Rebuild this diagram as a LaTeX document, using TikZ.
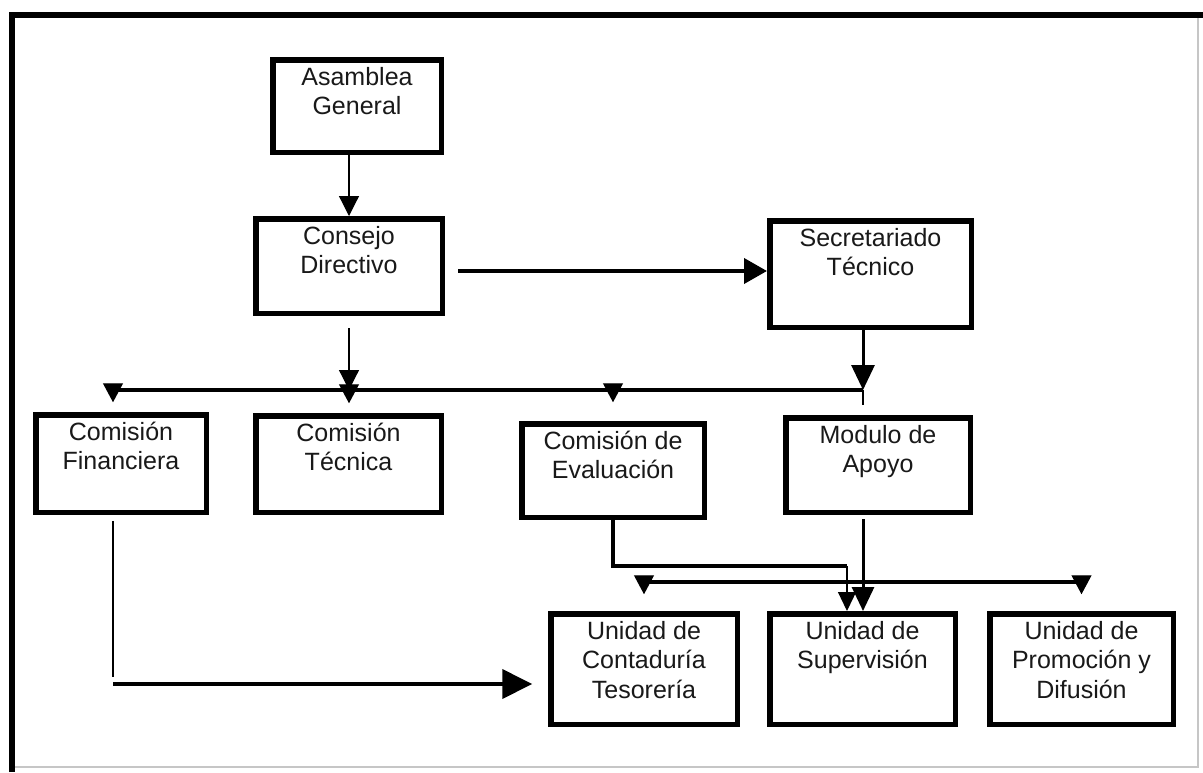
\documentclass[tikz,border=0pt]{standalone}
\usepackage{fontspec}
\setmainfont{Liberation Sans}
\usetikzlibrary{arrows.meta}
\newcommand{\bxt}[3]{\parbox[t][#2pt][t]{#1pt}{\centering\rule{0pt}{25.25pt}#3}}
\begin{document}
\begin{tikzpicture}[x=1pt,y=-1pt,line join=miter,
  box/.style={draw, line width=5.5pt, inner sep=0pt, text=black!90, font=\fontsize{25}{29.5}\selectfont},
  thinl/.style={line width=1.2pt},
  medl/.style={line width=3pt},
  thickl/.style={line width=4pt},
  headS/.style={-{Triangle[width=20pt,length=20pt]}},
  headH/.style={-{Triangle[width=25pt,length=23pt]}},
  headM/.style={-{Triangle[width=23pt,length=25pt]}},
  headD/.style={-{Triangle[width=20pt,length=19pt]}},
  headB/.style={-{Triangle[width=29pt,length=30pt]}},
  headS2/.style={-{Triangle[width=18pt,length=19pt]}},
  headM2/.style={-{Triangle[width=22pt,length=24pt]}}]
\useasboundingbox (0,0) rectangle (1203,772);
\fill[white] (0,0) rectangle (1203,772);
% frame
\draw[line width=6pt] (12,772) -- (12,15) -- (1203,15);
\draw[gray!45, line width=1.2pt] (1198,18) -- (1198,767) -- (15,767);
% boxes
\node[box] (asm) at (357,106) {\bxt{168.5}{92.5}{Asamblea\\General}};
\node[box] (con) at (349,266) {\bxt{186.5}{94.5}{Consejo\\Directivo}};
\node[box] (sec) at (870.5,274) {\bxt{201.5}{106.5}{Secretariado\\Técnico}};
\node[box] (cfin) at (121,463.5) {\bxt{170.5}{97.5}{Comisión\\Financiera}};
\node[box] (ctec) at (348.5,464) {\bxt{185.5}{96.5}{Comisión\\Técnica}};
\node[box] (ceva) at (613,470.5) {\bxt{182.5}{93.5}{Comisión de\\Evaluación}};
\node[box] (mod) at (878,465) {\bxt{184.5}{94.5}{Modulo de\\Apoyo}};
\node[box] (ucon) at (644,669) {\bxt{186.5}{110.5}{Unidad de\\Contaduría\\Tesorería}};
\node[box] (usup) at (862.5,669) {\bxt{185.5}{110.5}{Unidad de\\Supervisión}};
\node[box] (upro) at (1081.5,669) {\bxt{183.5}{110.5}{Unidad de\\Promoción y\\Difusión}};
% coordinates
\coordinate (busL) at (113,390);
\coordinate (busR) at (863,390);
\coordinate (cs) at (458,271);
\coordinate (f2) at (113,684);
\coordinate (e1) at (847,566);
\coordinate (lbL) at (ucon.north |- 0,582);
\coordinate (lbR) at (upro.north |- 0,582);
% connectors
\draw[thinl, headS] (asm.south -| con.north) -- (con.north);
\draw[thickl, headH] (cs) -- (cs -| sec.west);
\draw[thinl, headS] ([yshift=-12pt]con.south) -- (con.south |- busL);
\draw[medl, headM] (sec.south -| busR) -- (busR);
\draw[thickl] (busL) -- (busR);
\draw[thinl, headD, shorten >=9.75pt] ([yshift=4pt]busL) -- (busL |- cfin.north);
\path (con.south |- busL) coordinate (tc);
\draw[thinl, headD, shorten >=9.75pt] ([yshift=4pt]tc) -- (tc |- ctec.north);
\path (ceva.north |- busL) coordinate (te);
\draw[thinl, headD, shorten >=18.75pt] ([yshift=4pt]te) -- (ceva.north);
\draw[thinl, shorten >=10pt] (busR) -- (busR |- mod.north);
% Financiera -> Contaduria
\path (cfin.south -| busL) coordinate (fa);
\draw[thinl] ([yshift=-5.75pt]fa) -- (fa |- 0,677);
\draw[thickl, headB, shorten >=15.75pt] (f2) -- (f2 -| ucon.west);
% Evaluacion -> Supervision
\draw[thickl] (ceva.south) -- (ceva.south |- e1) -- (e1);
\draw[thinl, headS2] (e1) -- (e1 |- usup.north);
% Modulo -> Supervision
\path (mod.south -| busR) coordinate (ma);
\draw[medl, headM2] ([yshift=-4pt]ma) -- (ma |- usup.north);
% lower bus
\draw[thickl] (lbL) -- (lbR);
\draw[thinl, headD, shorten >=16.75pt] ([yshift=4pt]lbL) -- (ucon.north);
\draw[thinl, headD, shorten >=16.75pt] ([yshift=4pt]lbR) -- (upro.north);
\end{tikzpicture}
\end{document}
